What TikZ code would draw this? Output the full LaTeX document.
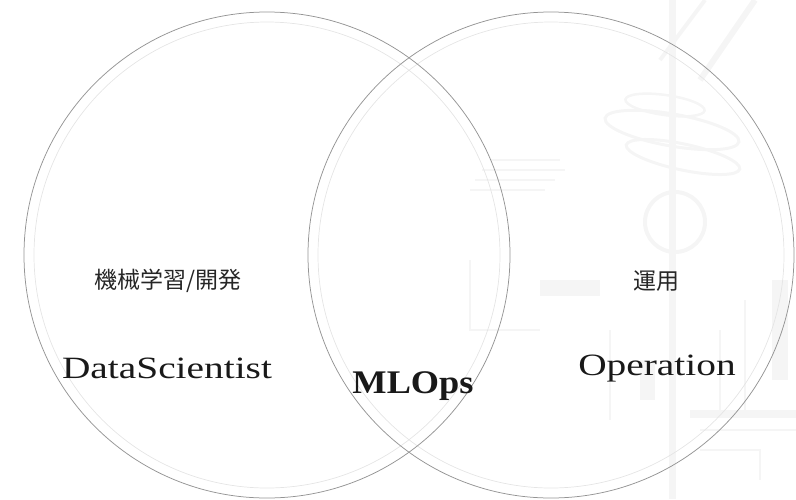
\documentclass[tikz,border=0pt]{standalone}
\usepackage{fontspec}
\usepackage{tikz}
\usetikzlibrary{positioning,calc}
\pgfdeclarelayer{bg}
\pgfsetlayers{bg,main}

\newfontfamily\wordfont[FakeStretch=1.27]{Liberation Serif}
\newfontfamily\opsfont[FakeStretch=1.1]{Liberation Serif}
\newfontfamily\jpfont{Noto Sans CJK JP}

\begin{document}
\begin{tikzpicture}[
		x = 1pt, y = -1pt,
		ringout/.style = {draw=black!42, line width=0.75pt},
		ringin/.style = {draw=black!10, line width=0.7pt},
		bigword/.style = {anchor=base, inner sep=0pt, text=black!90, font=\wordfont\fontsize{31}{31}\selectfont},
		subword/.style = {inner sep=0pt, text=black!85, font=\jpfont\fontsize{23}{23}\selectfont},
		faint/.style = {black!4},
	]

	\useasboundingbox (0,0) rectangle (796,499);

	% faint machine drawing behind the right circle
	\begin{pgfonlayer}{bg}
		\fill[faint] (669,0) rectangle (676,499);
		\draw[faint, line width=4pt] (705,0) -- (660,60);
		\draw[faint, line width=6pt] (755,0) -- (700,80);
		\draw[faint, line width=2.5pt, rotate around={-8:(665,105)}] (665,105) ellipse (40 and 10);
		\draw[faint, line width=3pt, rotate around={-10:(672,130)}] (672,130) ellipse (68 and 16);
		\draw[faint, line width=3pt, rotate around={-12:(683,157)}] (683,157) ellipse (58 and 13);
		\draw[faint, line width=4pt] (675,222) circle (30);
		\draw[faint, line width=2pt] (490,160) -- (560,160) (482,170) -- (565,170)
			(475,180) -- (555,180) (470,190) -- (545,190);
		\draw[faint, line width=1.5pt] (470,260) -- (470,330) -- (540,330);
		\fill[faint] (540,280) rectangle (600,296);
		\fill[faint] (690,410) rectangle (796,418);
		\draw[faint, line width=1.5pt] (700,430) -- (796,430) (700,450) -- (760,450) -- (760,480)
			(720,330) -- (720,410) (745,300) -- (745,410) (610,330) -- (610,420);
		\fill[faint] (640,360) rectangle (655,400);
		\fill[faint] (772,280) rectangle (788,380);
	\end{pgfonlayer}

	% the two circles, each with a pale inner ring
	\coordinate (lc) at (267,255);
	\coordinate (rc) at (551,255);
	\draw[ringin] (lc) circle (233);
	\draw[ringin] (rc) circle (233);
	\draw[ringout] (lc) circle (243);
	\draw[ringout] (rc) circle (243);

	\node[subword] (dslab) at (168,281) {機械学習/開発};
	\node[bigword] (ds) at (167,378) {DataScientist};

	\node[subword] (oplab) at (656,281) {運用};
	\node[bigword] (op) at (657,375) {Operation};

	\node[bigword, font=\opsfont\bfseries\fontsize{33}{33}\selectfont] (ml) at (413,393) {MLOps};

\end{tikzpicture}
\end{document}
